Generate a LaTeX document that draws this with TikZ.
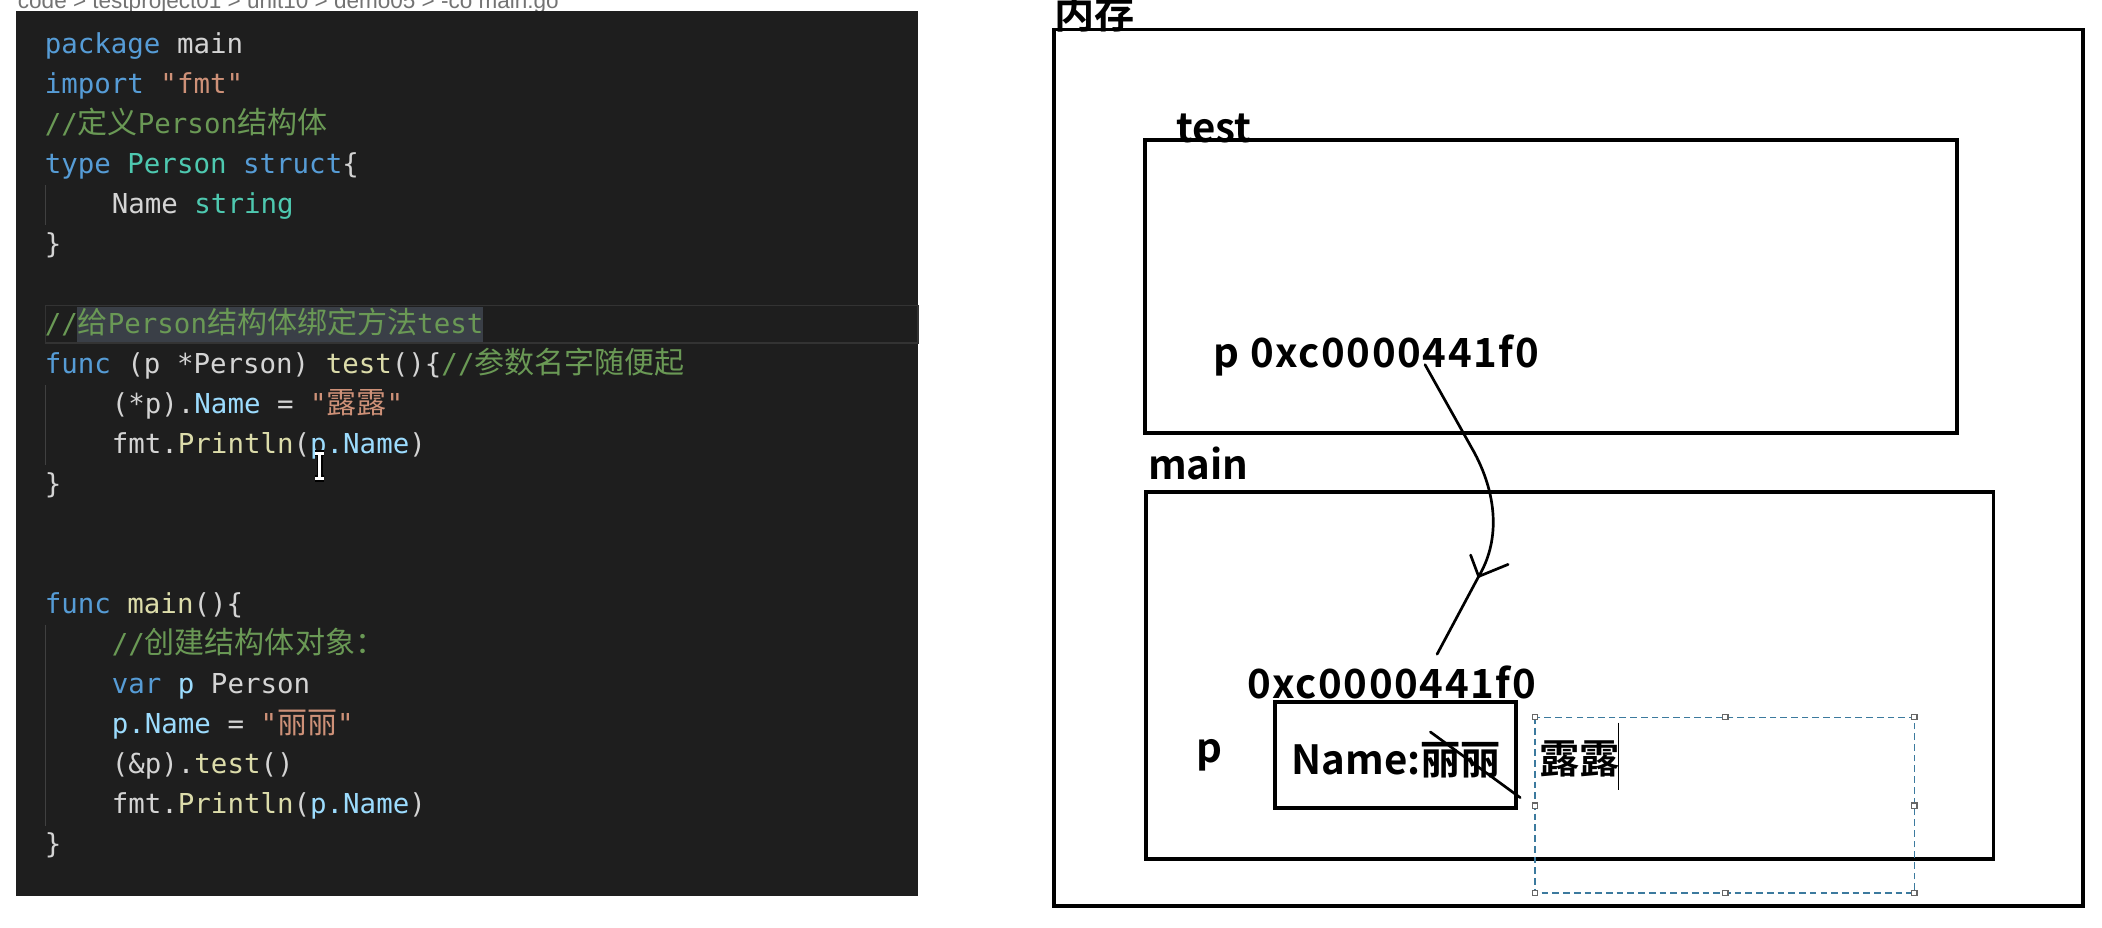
\documentclass[tikz,border=0pt]{standalone}
\usepackage{fontspec}
\setmainfont{Liberation Sans}
\setmonofont{DejaVu Sans Mono}
\newfontfamily\cjk{Noto Sans CJK SC}
\newfontfamily\hei{Noto Sans CJK SC}[BoldFont={Noto Sans CJK SC Bold}]
\definecolor{edbg}{HTML}{1E1E1E}
\definecolor{plain}{HTML}{D4D4D4}
\definecolor{kwblue}{HTML}{569CD6}
\definecolor{strorange}{HTML}{CE9178}
\definecolor{cmtgreen}{HTML}{6A9955}
\definecolor{typteal}{HTML}{4EC9B0}
\definecolor{fnyellow}{HTML}{DCDCAA}
\definecolor{varblue}{HTML}{9CDCFE}
\definecolor{selgray}{HTML}{3A3F47}
\definecolor{guide}{HTML}{404040}
\definecolor{selbox}{HTML}{3C7A9E}
\newcommand\zh[1]{{\cjk\fontsize{11.2}{12}\selectfont #1}}
\newcommand\gokw[1]{\textcolor{kwblue}{#1}}
\newcommand\gostr[1]{\textcolor{strorange}{#1}}
\newcommand\gocmt[1]{\textcolor{cmtgreen}{#1}}
\newcommand\gotyp[1]{\textcolor{typteal}{#1}}
\newcommand\gofn[1]{\textcolor{fnyellow}{#1}}
\newcommand\govar[1]{\textcolor{varblue}{#1}}

\begin{document}
\begin{tikzpicture}[x=0.5pt,y=-0.5pt,
  code/.style={anchor=base west,inner sep=0pt,text=plain,font=\ttfamily\fontsize{10.24}{12}\selectfont},
  lbl/.style={anchor=base west,inner sep=0pt,font=\hei\bfseries\fontsize{15}{16}\selectfont},
  hexlbl/.style={lbl,font=\hei\bfseries\fontsize{15}{16}\selectfont\addfontfeatures{LetterSpace=4}},
  frame/.style={draw,line width=1.4pt},
  wire/.style={draw,line width=1pt,line cap=round},
  handle/.style={draw=black!60,fill=white,line width=0.4pt}]
	%%%%% EDITOR %%%%%
	\def\xa{33}
	\def\xb{83}
	\def\yb{40}
	\def\lh{29.85}
	\useasboundingbox (0,0) rectangle (1568,691.5);
	\fill[white] (0,0) rectangle (1568,691.5);
	\node[anchor=base west,inner sep=0pt,text=black!55,font=\fontsize{8.4}{9}\selectfont] (crumb) at (13,6) {code > testproject01 > unit10 > demo05 > -co main.go};
	\fill[edbg] (12,8) rectangle (685,668);
	
	% current line + selection
	\draw[black!80!white,line width=0.6pt] (34,228) rectangle (685,256);
	\fill[selgray] (57.5,229) rectangle (360,255);
	
	% indent guides
	\draw[guide,line width=0.6pt] (34,138) -- (34,168);
	\draw[guide,line width=0.6pt] (34,287) -- (34,347);
	\draw[guide,line width=0.6pt] (34,466) -- (34,616);
	
	\node[code] (l0) at (\xa,\yb) {\gokw{package} main};
	\node[code] (l1) at (\xa,\yb+\lh) {\gokw{import} \gostr{"fmt"}};
	\node[code] (l2) at (\xa,\yb+2*\lh) {\gocmt{//\zh{定义}Person\zh{结构体}}};
	\node[code] (l3) at (\xa,\yb+3*\lh) {\gokw{type} \gotyp{Person} \gokw{struct}\{};
	\node[code] (l4) at (\xb,\yb+4*\lh) {Name \gotyp{string}};
	\node[code] (l5) at (\xa,\yb+5*\lh) {\}};
	\node[code] (l7) at (\xa,\yb+7*\lh) {\gocmt{//\zh{给}Person\zh{结构体绑定方法}test}};
	\node[code] (l8) at (\xa,\yb+8*\lh) {\gokw{func} (p *Person) \gofn{test}()\{\gocmt{//\zh{参数名字随便起}}};
	\node[code] (l9) at (\xb,\yb+9*\lh) {(*p).\govar{Name} = \gostr{"\zh{露露}"}};
	\node[code] (l10) at (\xb,\yb+10*\lh) {fmt.\gofn{Println}(\govar{p.Name})};
	\node[code] (l11) at (\xa,\yb+11*\lh) {\}};
	\node[code] (l14) at (\xa,\yb+14*\lh) {\gokw{func} \gofn{main}()\{};
	\node[code] (l15) at (\xb,\yb+15*\lh) {\gocmt{//\zh{创建结构体对象：}}};
	\node[code] (l16) at (\xb,\yb+16*\lh) {\gokw{var} \govar{p} Person};
	\node[code] (l17) at (\xb,\yb+17*\lh) {\govar{p.Name} = \gostr{"\zh{丽丽}"}};
	\node[code] (l18) at (\xb,\yb+18*\lh) {(\&p).\gofn{test}()};
	\node[code] (l19) at (\xb,\yb+19*\lh) {fmt.\gofn{Println}(\govar{p.Name})};
	\node[code] (l20) at (\xa,\yb+20*\lh) {\}};
	
	% mouse cursor
	\draw[black,line width=2.4pt] (238.5,338) -- (238.5,357) (235,338) -- (242,338) (235,357) -- (242,357);
	\draw[white,line width=1.2pt] (238.5,338) -- (238.5,357) (235,338) -- (242,338) (235,357) -- (242,357);
	
	%%%%% MEMORY %%%%%
	\draw[frame] (786,22) rectangle (1554,676);
	\node[lbl] (mem) at (786,21) {内存};
	
	\draw[frame] (854,104.5) rectangle (1460,323);
	\node[lbl] (test) at (877,106) {test};
	\node[hexlbl] (ptr) at (905,274) {p 0xc0000441f0};
	
	\draw[frame] (855,367) rectangle (1487,641);
	\node[lbl] (main) at (856,358) {main};
	\node[hexlbl] (addr) at (930,521) {0xc0000441f0};
	\node[lbl] (pvar) at (892,569) {p};
	\draw[frame] (951,523.6) rectangle (1131,603);
	\node[lbl] (name) at (963,578) {Name:丽丽};
	
	% pointer arrow
	\coordinate (src) at (1063,272);
	\coordinate (tip) at (1103,430);
	\coordinate (dst) at (1072,488);
	\draw[wire] (src) -- (1100,338) .. controls (1118,372) and (1118,405) .. (tip) -- (dst);
	\draw[wire] (1097,414) -- (tip) -- (1125,421);
	\draw[wire] (1067,546) -- (1134,595);
	
	% text box being edited
	\draw[selbox,dashed,line width=0.5pt,dash pattern=on 2.5pt off 1.5pt] (1145,535) rectangle (1428,666);
	\foreach \hx/\hy in {1145/535,1287/535,1428/535,1145/601,1428/601,1145/666,1287/666,1428/666}
		\draw[handle] (\hx-2,\hy-2) rectangle (\hx+2,\hy+2);
	\node[lbl] (lulu) at (1148,577) {露露};
	\draw[black,line width=0.4pt] (1207,539) -- (1207,589);
	%%%%% END %%%%%
\end{tikzpicture}
\end{document}
